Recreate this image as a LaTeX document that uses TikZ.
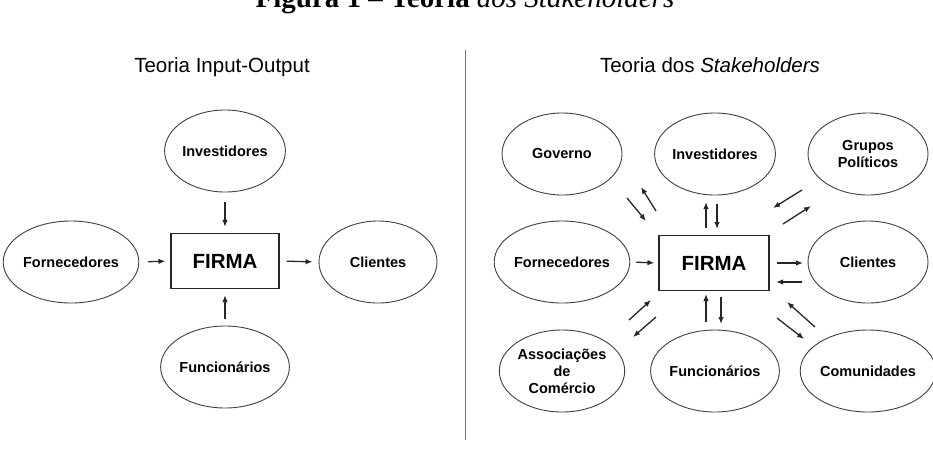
\documentclass[tikz,border=0pt]{standalone}
\usepackage{fontspec}
\setmainfont{Liberation Sans}
\newfontfamily\titleserif{Liberation Serif}
\usetikzlibrary{shapes.geometric,arrows.meta}
\tikzset{
  party/.style={ellipse, draw=black!75, line width=0.9pt, minimum width=118pt, minimum height=82pt, inner sep=0pt, align=center, font=\fontsize{14.5}{17}\selectfont\bfseries},
  firmbox/.style={rectangle, draw=black!85, line width=1.1pt, minimum width=108pt, minimum height=55pt, inner sep=0pt, font=\fontsize{20.5}{22}\selectfont\bfseries},
  arr/.style={-{Latex[length=7pt,width=5.5pt]}, line width=1.3pt, black!85},
  subtitle/.style={anchor=base, inner sep=0pt, font=\fontsize{20.5}{22}\selectfont}
}
\begin{document}
\begin{tikzpicture}[x=1pt,y=-1pt]
\useasboundingbox (0,0) rectangle (933,456);
\clip (0,0) rectangle (933,456);
\fill[white] (0,0) rectangle (933,456);
% clipped figure caption (cut off at the top edge, as in the reference)
\node[anchor=base, inner sep=0pt, font=\fontsize{29}{30}\selectfont\titleserif] (cap) at (465,7) {\textbf{Figura 1 – Teoria} \textit{dos Stakeholders}};
% separator
\draw[black!55, line width=1pt] (465,50) -- (465,440);
% ---------------- left diagram
\node[subtitle] (tl) at (222,72) {Teoria Input-Output};
\node[party] (linv) at (225,151) {Investidores};
\node[party] (lforn) at (71,262) {Fornecedores};
\node[firmbox] (lfirma) at (225,261) {FIRMA};
\node[party] (lcli) at (378,262) {Clientes};
\node[party] (lfunc) at (225,367) {Funcionários};
\draw[arr, shorten <=10pt, shorten >=6pt] (linv.south) -- (lfirma.north);
\draw[arr, shorten <=9pt, shorten >=5pt] (lforn.east) -- (lfirma.west);
\draw[arr, shorten <=7pt, shorten >=6pt] (lfirma.east) -- (lcli.west);
\draw[arr, shorten <=7pt, shorten >=6pt] (lfunc.north) -- (lfirma.south);
% ---------------- right diagram
\node[subtitle] (tr) at (710,72) {Teoria dos \textit{Stakeholders}};
\node[party, minimum width=120pt] (gov) at (562,154) {Governo};
\node[party, minimum width=120pt] (rinv) at (715,154) {Investidores};
\node[party, minimum width=120pt] (grp) at (868,154) {Grupos\\Políticos};
\node[party, minimum width=120pt] (rforn) at (562,262) {Fornecedores};
\node[firmbox, minimum width=110pt] (rfirma) at (714,263) {FIRMA};
\node[party, minimum width=120pt] (rcli) at (868,262) {Clientes};
\node[party, minimum width=120pt] (assoc) at (562,371) {Associações\\de\\Comércio};
\node[party, minimum width=120pt] (rfunc) at (715,371) {Funcionários};
\node[party, minimum width=120pt] (com) at (868,371) {Comunidades};
% Governo pair
\draw[arr] (627,198) -- (646,221);
\draw[arr] (656,211) -- (641,187);
% Investidores pair
\draw[arr] (706,228) -- (706,202);
\draw[arr] (717,204) -- (717,229);
% Grupos pair
\draw[arr] (802,190) -- (773,208);
\draw[arr] (783,224) -- (811,206);
% Fornecedores / Clientes
\draw[arr, shorten <=6pt, shorten >=4pt] (rforn.east) -- (rfirma.west);
\draw[arr] (777,263) -- (803,263);
\draw[arr] (802,282) -- (776,282);
% Associacoes pair
\draw[arr] (629,320) -- (651,300);
\draw[arr] (656,317) -- (633,337);
% Funcionarios pair
\draw[arr] (706,322) -- (706,294);
\draw[arr] (721,297) -- (721,324);
% Comunidades pair
\draw[arr] (777,318) -- (804,339);
\draw[arr] (815,327) -- (787,302);
\end{tikzpicture}
\end{document}
